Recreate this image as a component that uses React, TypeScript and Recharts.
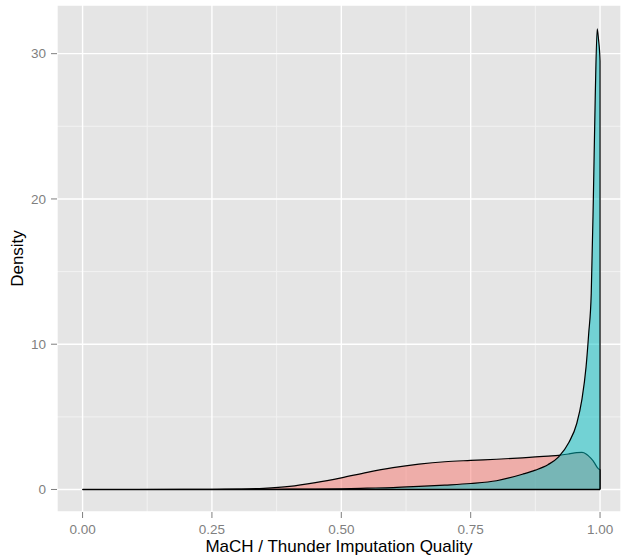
import { ComposedChart, Area, XAxis, YAxis, CartesianGrid, ReferenceLine } from "recharts";

// sample positions along imputation quality (last point repeated to close the curve at 1.0)
const quality = [
  0, 0.1, 0.2, 0.25, 0.3, 0.35, 0.4, 0.45, 0.5, 0.55, 0.6, 0.65, 0.7, 0.75, 0.8, 0.85,
  0.875, 0.9, 0.92, 0.94, 0.955, 0.965, 0.973, 0.978, 0.983, 0.987, 0.9906, 0.9945, 0.997, 1.0, 1.0,
];

// red density (broad)
const densityA = [
  0, 0, 0.005, 0.01, 0.03, 0.08, 0.21, 0.47, 0.8, 1.18, 1.5, 1.74, 1.91, 2.0, 2.08, 2.18,
  2.24, 2.3, 2.35, 2.45, 2.54, 2.55, 2.45, 2.3, 2.12, 1.95, 1.75, 1.52, 1.42, 1.35, 0,
];

// teal density (sharp peak near 1)
const densityB = [
  0, 0, 0, 0, 0.005, 0.01, 0.02, 0.03, 0.05, 0.09, 0.13, 0.21, 0.3, 0.41, 0.6, 1.05,
  1.33, 1.72, 2.25, 3.25, 4.54, 6.2, 8.44, 10.7, 13.5, 19.9, 26.8, 31.7, 31.0, 29.5, 0,
];

const xTicks = [0, 0.25, 0.5, 0.75, 1];
const yTicks = [0, 10, 20, 30];
const xMinor = [0.125, 0.375, 0.625, 0.875];
const yMinor = [5, 15, 25];

const data = quality.map((q, i) => ({ q, a: densityA[i], b: densityB[i] }));

const FONT = "'Liberation Sans', Arial, Helvetica, sans-serif";

export default function App() {
  return (
    <div style={{ position: "absolute", left: 0, top: 0, width: 624, height: 555, background: "#fff" }}>
      <ComposedChart width={624} height={555} data={data} margin={{ top: 5, right: 3, bottom: 0, left: 0 }}>
        <CartesianGrid
          fill="#E5E5E5"
          fillOpacity={1}
          stroke="#F2F2F2"
          strokeWidth={1}
          horizontalValues={yMinor}
          verticalValues={xMinor}
        />
        <CartesianGrid stroke="#FFFFFF" strokeWidth={1.4} />
        <XAxis
          type="number"
          dataKey="q"
          domain={[-0.0494, 1.0405]}
          allowDataOverflow
          ticks={xTicks}
          tickFormatter={(v: number) => v.toFixed(2)}
          height={43}
          axisLine={false}
          tickSize={6}
          tickMargin={6}
          tickLine={{ stroke: "#7F7F7F" }}
          tick={{ fill: "#7F7F7F", fontSize: 13.5, fontFamily: FONT }}
          label={(props: any) => {
            const vb = props.viewBox;
            return (
              <text
                x={vb.x + vb.width / 2}
                y={vb.y + 40}
                textAnchor="middle"
                fill="#000"
                fontSize={17}
                fontFamily={FONT}
              >
                MaCH / Thunder Imputation Quality
              </text>
            );
          }}
        />
        <YAxis
          type="number"
          domain={[-1.55, 33.35]}
          allowDataOverflow
          ticks={yTicks}
          width={57}
          axisLine={false}
          tickSize={6}
          tickMargin={5}
          tickLine={{ stroke: "#7F7F7F" }}
          tick={{ fill: "#7F7F7F", fontSize: 13.5, fontFamily: FONT }}
          label={(props: any) => {
            const vb = props.viewBox;
            const cx = 17;
            const cy = vb.y + vb.height / 2;
            return (
              <text
                x={cx}
                y={cy}
                transform={`rotate(-90 ${cx} ${cy})`}
                textAnchor="middle"
                dominantBaseline="central"
                fill="#000"
                fontSize={17}
                fontFamily={FONT}
              >
                Density
              </text>
            );
          }}
        />
        <Area
          type="monotone"
          dataKey="a"
          baseValue={0}
          stroke="#000"
          strokeWidth={1.2}
          fill="#F8766D"
          fillOpacity={0.5}
          dot={false}
          activeDot={false}
          isAnimationActive={false}
        />
        <Area
          type="monotone"
          dataKey="b"
          baseValue={0}
          stroke="#000"
          strokeWidth={1.2}
          fill="#00BFC4"
          fillOpacity={0.5}
          dot={false}
          activeDot={false}
          isAnimationActive={false}
        />
        <ReferenceLine
          segment={[{ x: 0, y: 0 }, { x: 1, y: 0 }]}
          stroke="#000"
          strokeWidth={1.4}
        />
      </ComposedChart>
    </div>
  );
}
